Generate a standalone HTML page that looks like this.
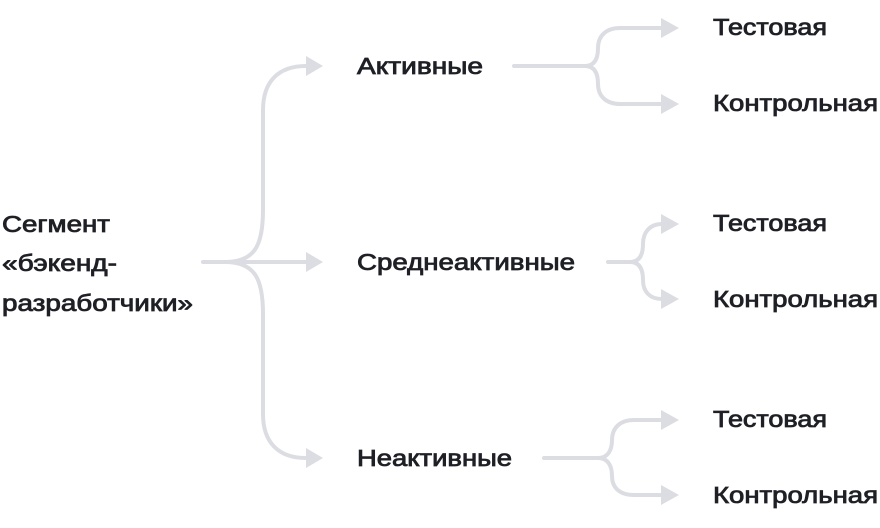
<!DOCTYPE html>
<html><head><meta charset="utf-8"><style>
html,body{margin:0;padding:0;background:#fff;}
svg{display:block}
text{font-family:"Liberation Sans",sans-serif;font-size:23px;fill:#1f2026;stroke:#1f2026;stroke-width:0.8px;}
</style></head><body>
<svg width="880" height="528" viewBox="0 0 880 528" xmlns="http://www.w3.org/2000/svg">
<g fill="none" stroke="#dcdde2" stroke-width="4" stroke-linecap="round">
  <path d="M203 262 H308"/>
  <path d="M225 262 C255 262 263 245 263 210 V110 C263 82 278 66 306 66"/>
  <path d="M225 262 C255 262 263 279 263 314 V414 C263 442 278 458 306 458"/>
  <path d="M514 66 H585 C595 66 598 58 598 48 C598 36 606 28 620 28 H662"/>
  <path d="M585 66 C595 66 598 74 598 84 C598 96 606 104 620 104 H662"/>
  <path d="M608 262 H630 C640 262 643 254 643 244 C643 232 650 224 662 224"/>
  <path d="M630 262 C640 262 643 270 643 280 C643 292 650 299 662 299"/>
  <path d="M544 458 H598 C608 458 612 450 612 440 C612 428 620 420 634 420 H662"/>
  <path d="M598 458 C608 458 612 466 612 476 C612 488 620 495 634 495 H662"/>
</g>
<g fill="#dcdde2">
  <polygon points="306,56 323,66 306,76"/>
  <polygon points="306,252 323,262 306,272"/>
  <polygon points="306,448 323,458 306,468"/>
  <polygon points="661,18 679,28 661,38"/>
  <polygon points="661,94 679,104 661,114"/>
  <polygon points="661,214 679,224 661,234"/>
  <polygon points="661,289 679,299 661,309"/>
  <polygon points="661,410 679,420 661,430"/>
  <polygon points="661,485 679,495 661,505"/>
</g>
<text x="2" y="232" textLength="108" lengthAdjust="spacingAndGlyphs">Сегмент</text>
<text x="2" y="271" textLength="115" lengthAdjust="spacingAndGlyphs">«бэкенд-</text>
<text x="2" y="311" textLength="191" lengthAdjust="spacingAndGlyphs">разработчики»</text>
<text x="357" y="74" textLength="126" lengthAdjust="spacingAndGlyphs">Активные</text>
<text x="357" y="270" textLength="218" lengthAdjust="spacingAndGlyphs">Среднеактивные</text>
<text x="357" y="466" textLength="155" lengthAdjust="spacingAndGlyphs">Неактивные</text>
<text x="713" y="35" textLength="114" lengthAdjust="spacingAndGlyphs">Тестовая</text>
<text x="713" y="111" textLength="165" lengthAdjust="spacingAndGlyphs">Контрольная</text>
<text x="713" y="231" textLength="114" lengthAdjust="spacingAndGlyphs">Тестовая</text>
<text x="713" y="307" textLength="165" lengthAdjust="spacingAndGlyphs">Контрольная</text>
<text x="713" y="427" textLength="114" lengthAdjust="spacingAndGlyphs">Тестовая</text>
<text x="713" y="503" textLength="165" lengthAdjust="spacingAndGlyphs">Контрольная</text>
</svg>
</body></html>
